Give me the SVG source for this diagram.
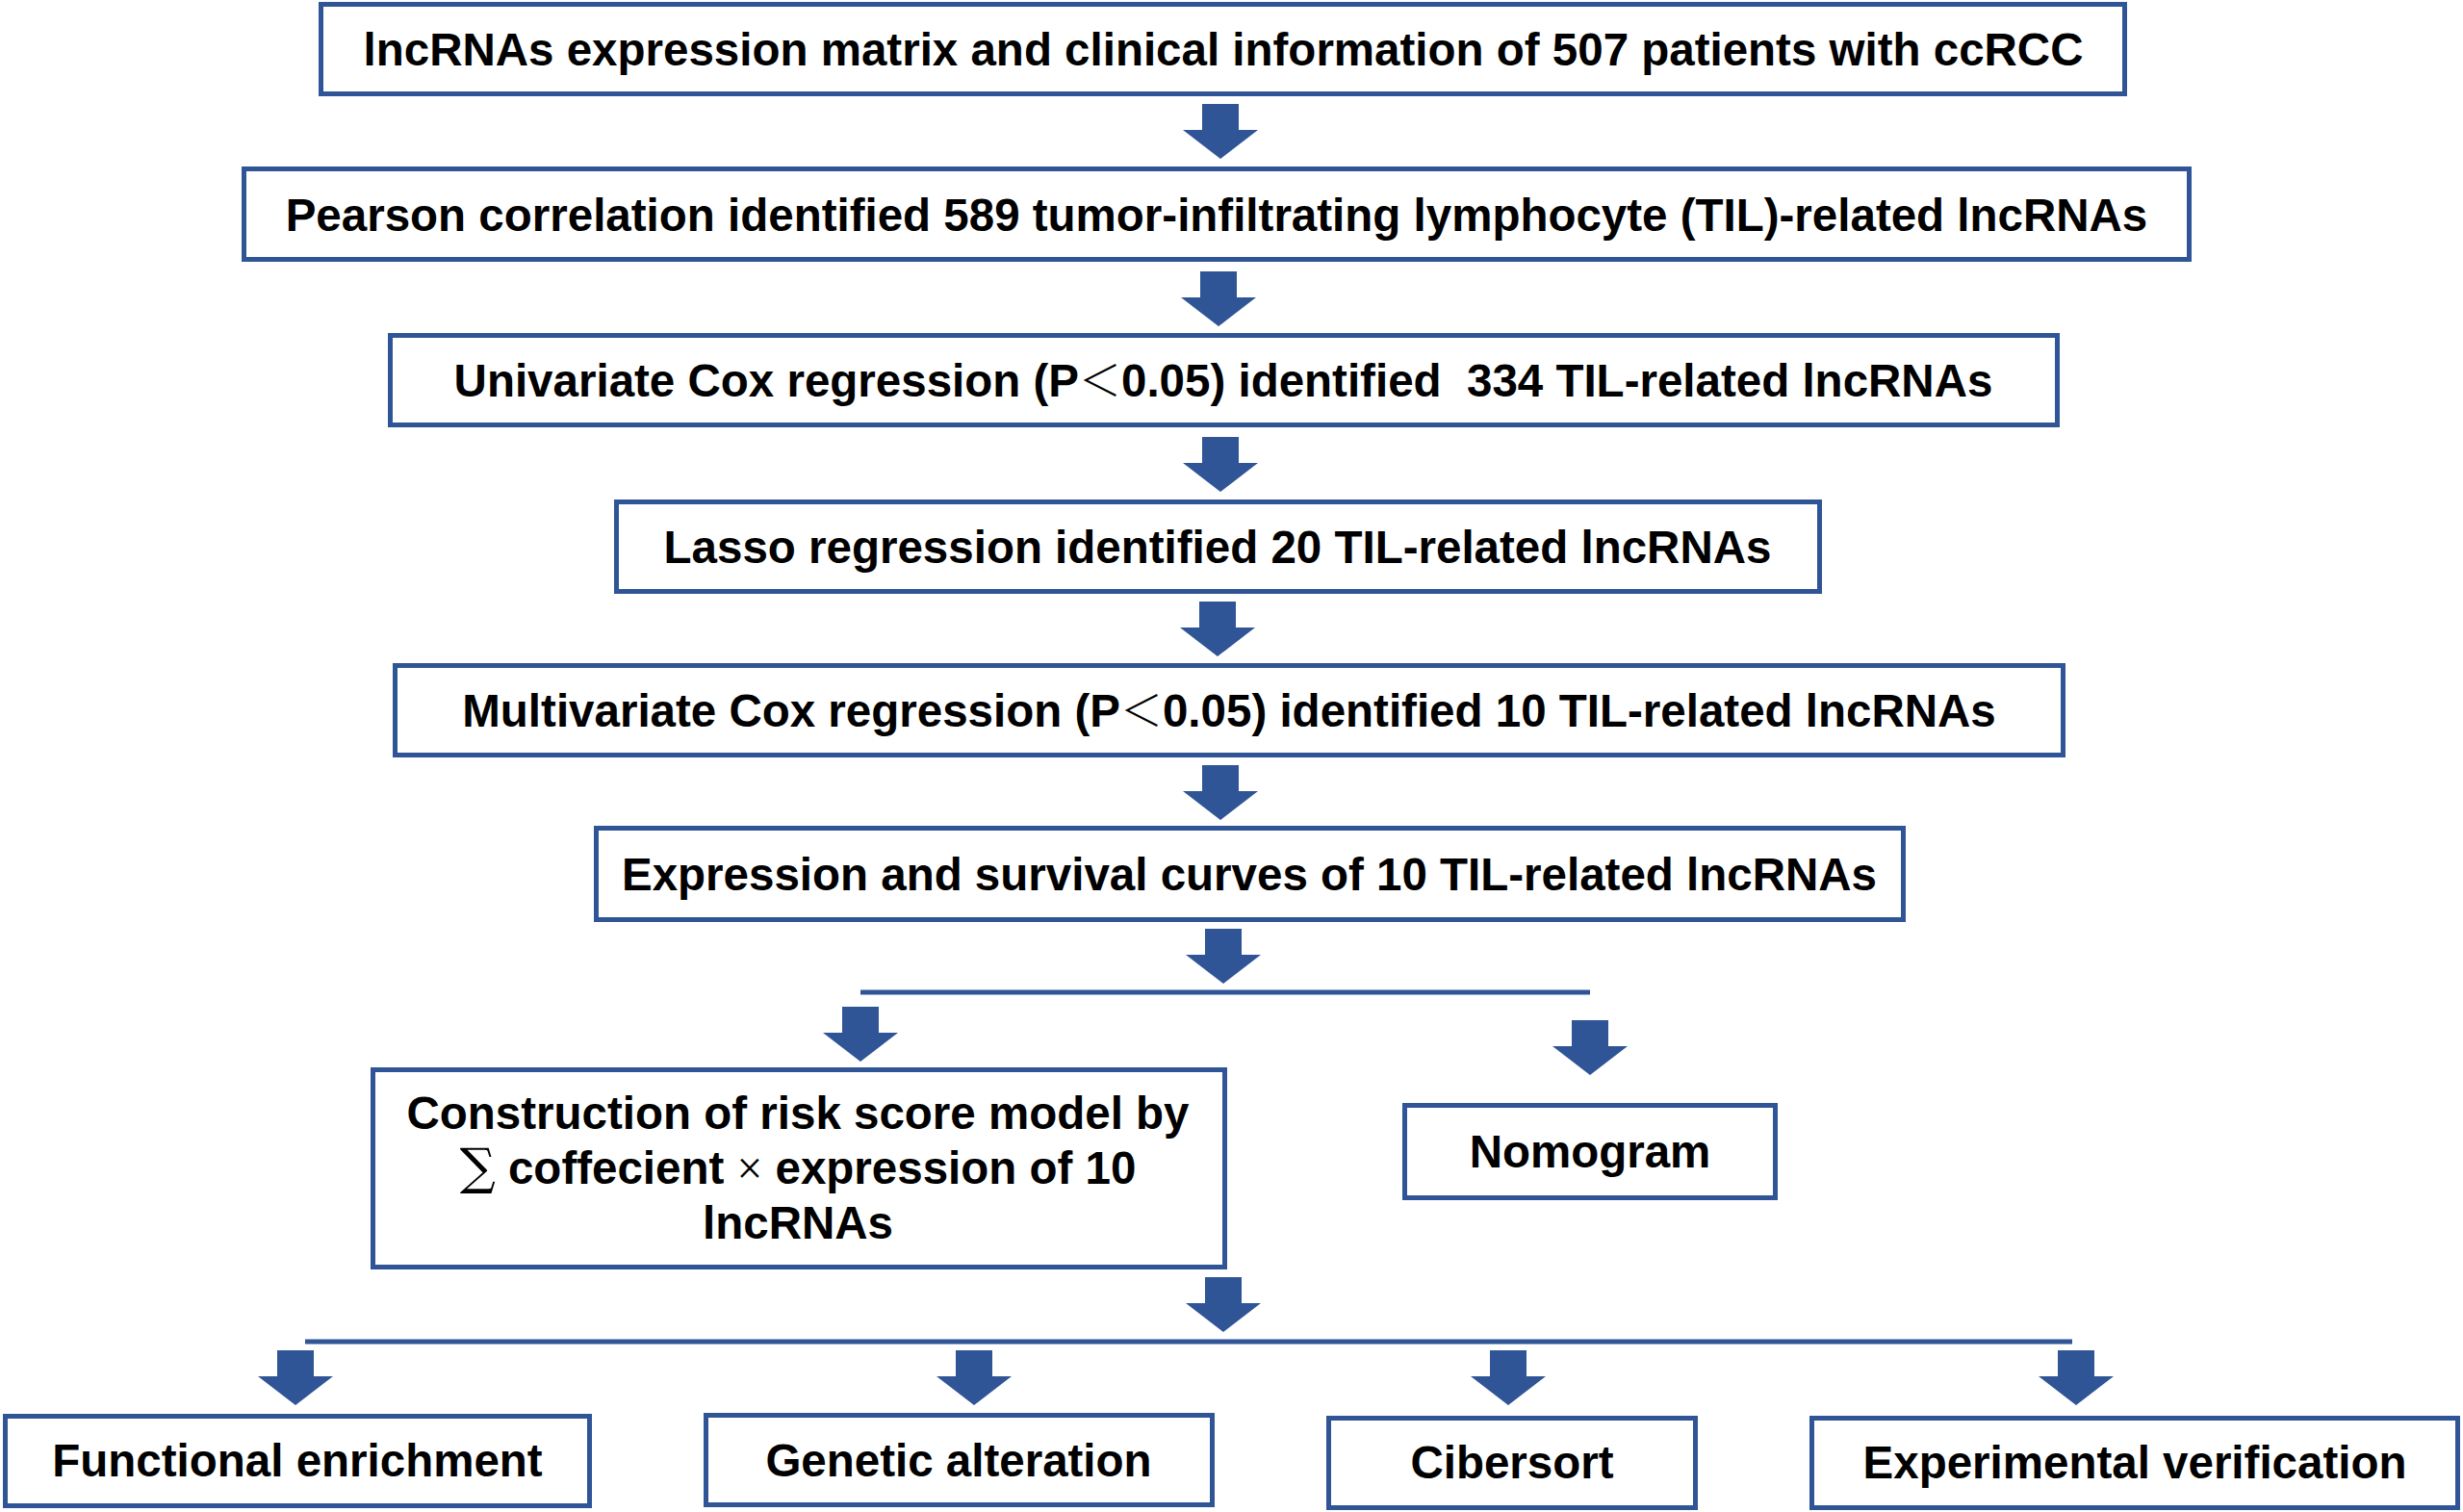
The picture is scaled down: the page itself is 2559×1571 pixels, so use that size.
<svg xmlns="http://www.w3.org/2000/svg" xmlns:xlink="http://www.w3.org/1999/xlink" width="2559" height="1571" viewBox="0 0 2559 1571">
<defs>
<style>
.box{fill:#ffffff;stroke:#2F5597;stroke-width:5}
.t{font-family:"Liberation Sans",Arial,sans-serif;font-weight:bold;font-size:47.5px;fill:#000000;text-anchor:middle}
.m{font-family:"Liberation Serif","DejaVu Serif",serif;font-weight:normal}
.lt{font-family:"Noto Sans CJK SC","Noto Sans CJK JP",sans-serif;font-weight:300;font-size:44px}
.sig{font-family:"DejaVu Serif","Liberation Serif",serif;font-weight:normal;font-size:52px}
.line{stroke:#2F5597;stroke-width:5;fill:none}
.arrow{fill:#2F5597}
</style>
<path id="arr" class="arrow" d="M-19,0 H19 V27 H39 L0,57 L-39,27 H-19 Z"/>
</defs>
<rect width="2559" height="1571" fill="#ffffff"/>
<g id="connectors">
<use href="#arr" x="1268" y="108"/>
<use href="#arr" x="1266" y="282"/>
<use href="#arr" x="1268" y="454"/>
<use href="#arr" x="1265" y="625"/>
<use href="#arr" x="1268" y="795"/>
<use href="#arr" x="1271" y="965"/>
<line class="line" x1="894" y1="1031" x2="1652" y2="1031"/>
<use href="#arr" x="894" y="1046"/>
<use href="#arr" x="1652" y="1060"/>
<use href="#arr" x="1271" y="1327"/>
<line class="line" x1="317" y1="1394" x2="2153" y2="1394"/>
<use href="#arr" x="307" y="1403"/>
<use href="#arr" x="1012" y="1403"/>
<use href="#arr" x="1567" y="1403"/>
<use href="#arr" x="2157" y="1403"/>
</g>
<g id="node1">
<rect class="box" x="333.5" y="4.5" width="1874" height="93"/>
<text class="t" x="1271" y="68">lncRNAs expression matrix and clinical information of 507 patients with ccRCC</text>
</g>
<g id="node2">
<rect class="box" x="253.5" y="175.5" width="2021" height="94"/>
<text class="t" x="1264" y="240">Pearson correlation identified 589 tumor-infiltrating lymphocyte (TIL)-related lncRNAs</text>
</g>
<g id="node3">
<rect class="box" x="405.5" y="348.5" width="1732" height="93"/>
<text class="t" x="1271" y="412" style="white-space:pre">Univariate Cox regression (P<tspan class="lt">＜</tspan>0.05) identified  334 TIL-related lncRNAs</text>
</g>
<g id="node4">
<rect class="box" x="640.5" y="521.5" width="1250" height="93"/>
<text class="t" x="1265" y="585">Lasso regression identified 20 TIL-related lncRNAs</text>
</g>
<g id="node5">
<rect class="box" x="410.5" y="691.5" width="1733" height="93"/>
<text class="t" x="1277" y="755">Multivariate Cox regression (P<tspan class="lt">＜</tspan>0.05) identified 10 TIL-related lncRNAs</text>
</g>
<g id="node6">
<rect class="box" x="619.5" y="860.5" width="1358" height="95"/>
<text class="t" x="1298" y="925">Expression and survival curves of 10 TIL-related lncRNAs</text>
</g>
<g id="node7">
<rect class="box" x="387.5" y="1111.5" width="885" height="205"/>
<text class="t" x="829" y="1173">Construction of risk score model by</text>
<text class="t" x="829" y="1230"><tspan class="sig">∑</tspan> coffecient <tspan class="m">×</tspan> expression of 10</text>
<text class="t" x="829" y="1287">lncRNAs</text>
</g>
<g id="node8">
<rect class="box" x="1459.5" y="1148.5" width="385" height="96"/>
<text class="t" x="1652" y="1213">Nomogram</text>
</g>
<g id="node9">
<rect class="box" x="5.5" y="1471.5" width="607" height="93"/>
<text class="t" x="309" y="1534">Functional enrichment</text>
</g>
<g id="node10">
<rect class="box" x="733.5" y="1470.5" width="526" height="93"/>
<text class="t" x="996" y="1534">Genetic alteration</text>
</g>
<g id="node11">
<rect class="box" x="1380.5" y="1473.5" width="381" height="93"/>
<text class="t" x="1571" y="1536">Cibersort</text>
</g>
<g id="node12">
<rect class="box" x="1882.5" y="1473.5" width="671" height="93"/>
<text class="t" x="2218" y="1536">Experimental verification</text>
</g>
</svg>
